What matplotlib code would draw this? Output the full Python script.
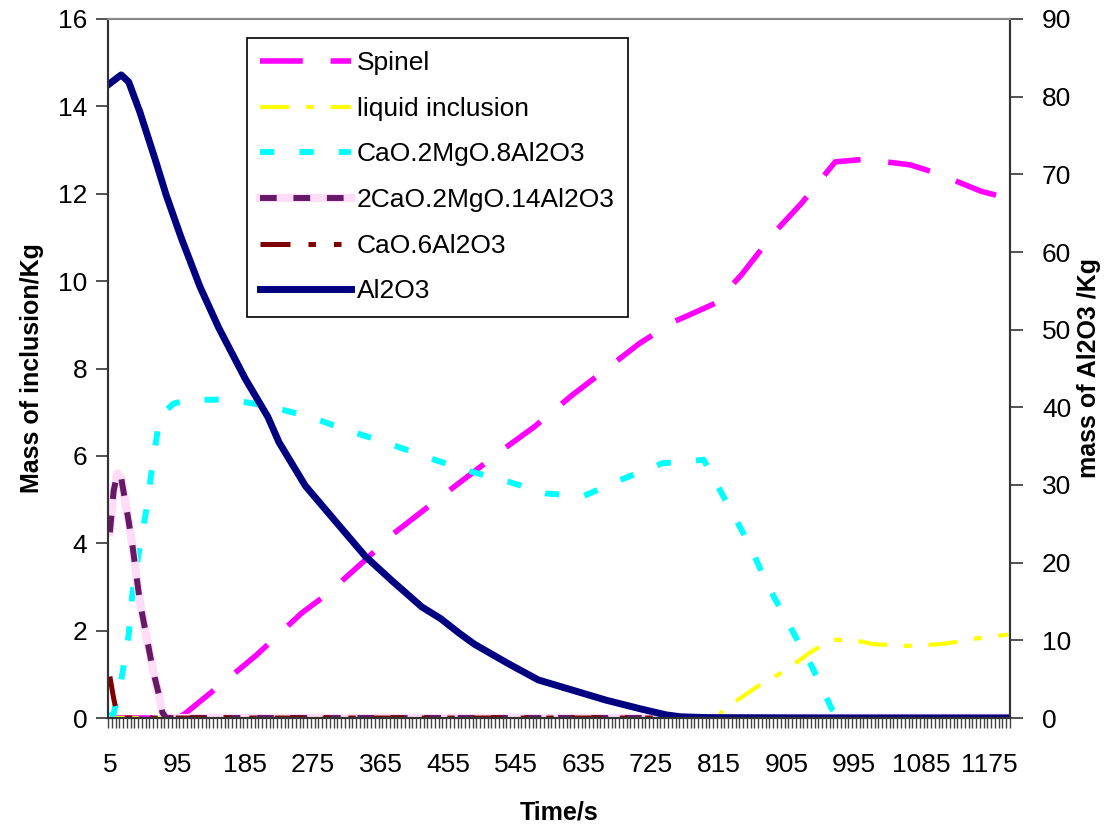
import matplotlib
matplotlib.use("Agg")
import matplotlib.pyplot as plt
import numpy as np

plt.rcParams['font.family'] = ['Liberation Sans', 'DejaVu Sans']

# time (s) and mass readings for each series
t_spinel = [5, 95, 105, 160, 200, 260, 295, 345, 380, 440, 475, 530, 570, 620, 655,
            710, 755, 775, 810, 845, 890, 925, 970, 1010, 1070, 1105, 1165, 1200]
spinel = [0.0, 0.0, 0.1, 0.87, 1.44, 2.40, 2.85, 3.62, 4.19, 4.99, 5.45, 6.17, 6.67, 7.39, 7.85,
          8.58, 9.07, 9.22, 9.49, 10.14, 11.13, 11.78, 12.73, 12.79, 12.66, 12.47, 12.05, 11.9]

t_liquid = [5, 815, 820, 870, 905, 935, 965, 1005, 1020, 1065, 1110, 1135, 1165, 1200]
liquid = [0.0, 0.0, 0.18, 0.76, 1.10, 1.48, 1.80, 1.75, 1.69, 1.65, 1.69, 1.75, 1.84, 1.91]

t_cao2 = [5, 10, 20, 30, 35, 45, 55, 60, 70, 80, 90, 110, 165, 215, 270, 320, 375, 425,
          475, 535, 585, 635, 690, 740, 795, 825, 855, 880, 910, 940, 965, 975, 1200]
cao2 = [0.05, 0.1, 0.85, 1.9, 2.85, 3.95, 4.9, 5.6, 6.75, 7.05, 7.2, 7.28, 7.29, 7.14, 6.9, 6.59, 6.29, 5.98,
        5.69, 5.41, 5.14, 5.08, 5.49, 5.83, 5.91, 4.95, 4.0, 3.04, 2.09, 1.14, 0.22, 0.0, 0.0]

t_2cao = [5, 10, 15, 20, 30, 35, 40, 45, 50, 55, 60, 65, 70, 75, 80, 1200]
cao2_14 = [4.25, 5.2, 5.6, 5.5, 4.5, 3.95, 3.3, 2.65, 2.2, 1.75, 1.3, 0.9, 0.55, 0.12, 0.0, 0.0]

t_cao6 = [5, 10, 15, 20, 1200]
cao6 = [0.95, 0.45, 0.05, 0.0, 0.0]

t_al2o3 = [5, 20, 30, 45, 65, 80, 100, 125, 150, 185, 215, 230, 265, 315, 345, 380, 420, 445,
           470, 490, 535, 575, 620, 665, 710, 745, 765, 800, 900, 1000, 1100, 1200]
al2o3 = [81.7, 82.8, 81.9, 78.0, 72.0, 67.3, 61.8, 55.5, 50.2, 43.7, 38.8, 35.5, 29.9, 24.2, 20.8, 17.7, 14.3, 12.8,
         10.9, 9.5, 7.0, 4.9, 3.6, 2.3, 1.2, 0.4, 0.15, 0.05, 0.02, 0.01, 0.01, 0.01]

n_cat = 240
label_step = 18


def idx(times):
    # category position of each time (one category every 5 s, starting at 5 s)
    return (np.array(times) - 5) / 5


fig = plt.figure(figsize=(11.07, 8.27), dpi=100)
ax = fig.add_axes([108 / 1107, 1 - 718 / 827, 902 / 1107, 699 / 827])
ax2 = ax.twinx()

l_sp, = ax.plot(idx(t_spinel), spinel, color='#FF00FF', lw=4, dashes=(7.7, 5))
l_lq, = ax.plot(idx(t_liquid), liquid, color='#FFFF00', lw=3, dashes=(7, 4, 1.9, 4))
l_c2, = ax.plot(idx(t_cao2), cao2, color='#00FFFF', lw=4.3, dashes=(2.4, 4.2))
l_pk, = ax.plot(idx(t_2cao), cao2_14, color='#FFDDF8', lw=6)
l_pu, = ax.plot(idx(t_2cao), cao2_14, color='#661A66', lw=4.3, dashes=(2.8, 2.8))
l_c6, = ax.plot(idx(t_cao6), cao6, color='#800000', lw=3.6, dashes=(6, 3.6, 1.5, 3.6, 1.5, 3.6))
l_al, = ax2.plot(idx(t_al2o3), al2o3, color='#000080', lw=5)

ax.set_xlim(-0.5, n_cat - 0.5)
ax.set_ylim(0, 16)
ax2.set_ylim(0, 90)
ax.set_yticks(range(0, 17, 2))
ax2.set_yticks(range(0, 91, 10))

major = np.arange(0, n_cat, label_step)
ax.set_xticks(major)
ax.set_xticklabels([str(5 + 5 * i) for i in major])
ax.set_xticks(np.arange(-0.5, n_cat, 1), minor=True)
ax.tick_params(axis='x', which='major', length=0, labelsize=19, pad=25)
ax.tick_params(axis='x', which='minor', length=7, width=1, color='#444444', direction='out')
ax.tick_params(axis='y', length=9, width=1.2, labelsize=19, pad=6, color='#333333')
ax2.tick_params(axis='y', length=9, width=1.2, labelsize=19, pad=14, color='#333333')

for a in (ax, ax2):
    for side in ('left', 'bottom', 'right'):
        a.spines[side].set_color('#333333')
        a.spines[side].set_linewidth(1.5)
    a.spines['top'].set_color('#888888')
    a.spines['top'].set_linewidth(1.5)

ax.set_ylabel('Mass of inclusion/Kg', fontsize=18, fontweight='bold')
ax.yaxis.set_label_coords(-0.071, 0.5)
ax2.set_ylabel('mass of Al2O3 /Kg', fontsize=18, fontweight='bold')
ax2.yaxis.set_label_coords(1.074, 0.5)
ax.set_xlabel('Time/s', fontsize=18, fontweight='bold')
ax.xaxis.set_label_coords(0.5, -0.118)

leg = ax2.legend([l_sp, l_lq, l_c2, (l_pk, l_pu), l_c6, l_al],
                 ['Spinel', 'liquid inclusion', 'CaO.2MgO.8Al2O3', '2CaO.2MgO.14Al2O3',
                  'CaO.6Al2O3', 'Al2O3'],
                 loc='upper left', bbox_to_anchor=(247 / 1107, 1 - 38 / 827),
                 bbox_transform=fig.transFigure, borderaxespad=0, fancybox=False,
                 framealpha=1, edgecolor='black', fontsize=19, handlelength=3.45,
                 handletextpad=0.2, labelspacing=0.82, borderpad=0.5)
leg.get_frame().set_linewidth(1.2)

fig.savefig('out.png', dpi=100)
